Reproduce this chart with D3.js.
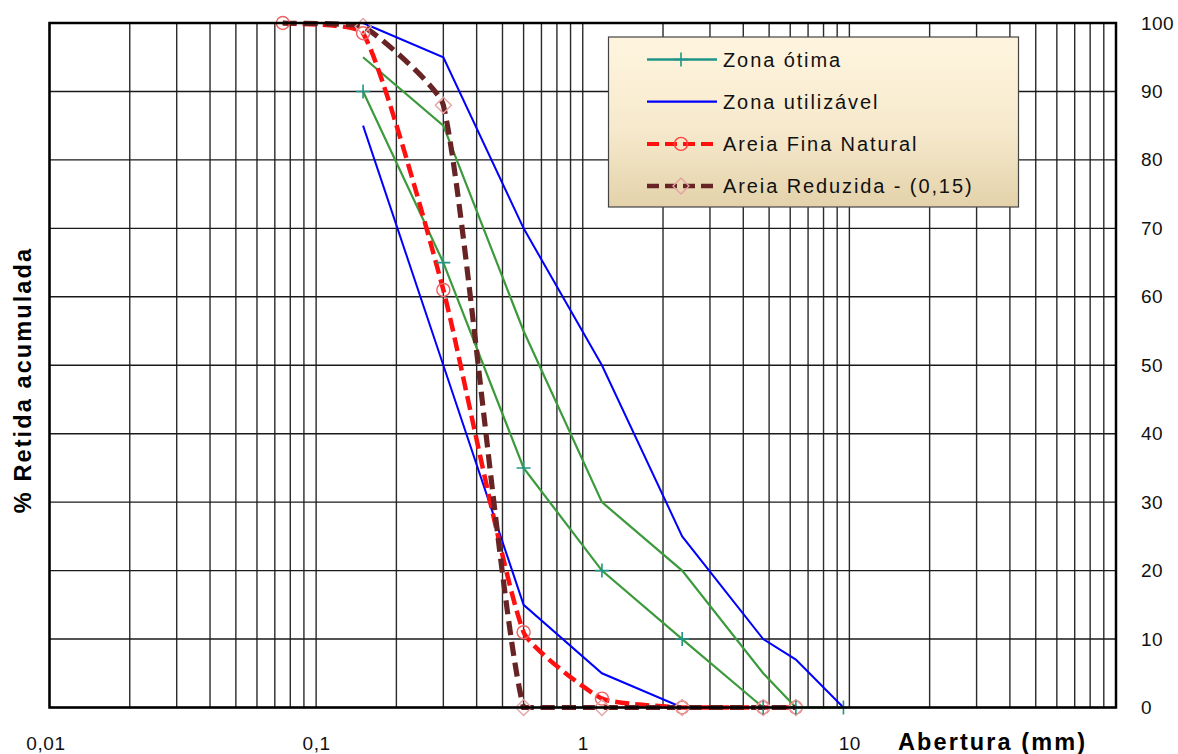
<!DOCTYPE html>
<html><head><meta charset="utf-8">
<script src="https://cdn.jsdelivr.net/npm/d3@7"></script>
<style>
html,body{margin:0;padding:0;background:#fff;}
text{font-family:"Liberation Sans",Arial,sans-serif;}
</style></head>
<body><svg id="c" width="1178" height="754"></svg>
<script>
// ---------- data ----------
const xTickValues = [0.01, 0.1, 1, 10];
const xTickLabels = ["0,01", "0,1", "1", "10"];
const yTickValues = [0, 10, 20, 30, 40, 50, 60, 70, 80, 90, 100];
const xTitle = "Abertura (mm)";
const yTitle = "% Retida acumulada";

const otimaInfX = [0.15, 0.3, 0.6, 1.18, 2.36, 4.75, 6.3, 9.5];
const otimaInfY = [90, 65, 35, 20, 10, 0, 0, 0];
const otimaSupX = [0.15, 0.3, 0.6, 1.18, 2.36, 4.75, 6.3];
const otimaSupY = [95, 85, 55, 30, 20, 5, 0];
const utilInfX = [0.15, 0.3, 0.6, 1.18, 2.36, 4.75];
const utilInfY = [85, 50, 15, 5, 0, 0];
const utilSupX = [0.15, 0.3, 0.6, 1.18, 2.36, 4.75, 6.3, 9.5];
const utilSupY = [100, 95, 70, 50, 25, 10, 7, 0];
const naturalX = [0.075, 0.15, 0.3, 0.6, 1.18, 2.36, 4.75, 6.3];
const naturalY = [100, 98.5, 61, 11, 1.3, 0, 0, 0];
const reduzidaX = [0.075, 0.15, 0.3, 0.6, 1.18, 2.36, 4.75, 6.3];
const reduzidaY = [100, 99.5, 88, 0, 0, 0, 0, 0];

const legendNames = ["Zona ótima", "Zona utilizável", "Areia Fina Natural", "Areia Reduzida - (0,15)"];

// ---------- layout ----------
const svg = d3.select("#c");
const L = 49.5, R = 1116, T = 23, B = 707.5;
const x = d3.scaleLog().domain([0.01, 100]).range([L, R]);
const y = d3.scaleLinear().domain([0, 100]).range([B, T]);
const zip = (xs, ys) => xs.map((v, i) => [v, ys[i]]);

// light smoothing curve (length-weighted, low tension, clamped to segment box)
function LightSmooth(ctx) { this._context = ctx; }
LightSmooth.prototype = {
  areaStart() {}, areaEnd() {},
  lineStart() { this._p = []; },
  point(a, b) { this._p.push([+a, +b]); },
  lineEnd() {
    const p = this._p, c = this._context, n = p.length, k = 0.16;
    if (!n) return;
    const d = (a, b) => Math.hypot(b[0] - a[0], b[1] - a[1]);
    const cl = (v, a, b) => Math.max(Math.min(a, b), Math.min(Math.max(a, b), v));
    c.moveTo(p[0][0], p[0][1]);
    for (let i = 0; i < n - 1; i++) {
      const p0 = p[Math.max(i - 1, 0)], p1 = p[i], p2 = p[i + 1], p3 = p[Math.min(i + 2, n - 1)];
      const d01 = d(p0, p1), d12 = d(p1, p2), d23 = d(p2, p3);
      const f1 = k * d12 / ((d01 + d12) || 1), f2 = k * d12 / ((d12 + d23) || 1);
      let c1 = [p1[0] + (p2[0] - p0[0]) * f1, p1[1] + (p2[1] - p0[1]) * f1];
      let c2 = [p2[0] - (p3[0] - p1[0]) * f2, p2[1] - (p3[1] - p1[1]) * f2];
      c1 = [cl(c1[0], p1[0], p2[0]), cl(c1[1], p1[1], p2[1])];
      c2 = [cl(c2[0], p1[0], p2[0]), cl(c2[1], p1[1], p2[1])];
      c.bezierCurveTo(c1[0], c1[1], c2[0], c2[1], p2[0], p2[1]);
    }
  }
};
const lightSmooth = ctx => new LightSmooth(ctx);

// ---------- grid ----------
const grid = svg.append("g");
grid.selectAll("line.v").data(x.ticks()).join("line")
  .attr("x1", d => x(d)).attr("x2", d => x(d)).attr("y1", T).attr("y2", B)
  .attr("stroke", "#2a2a2a").attr("stroke-width", 1.4);
grid.selectAll("line.h").data(yTickValues).join("line")
  .attr("x1", L).attr("x2", R).attr("y1", d => y(d)).attr("y2", d => y(d))
  .attr("stroke", "#1a1a1a").attr("stroke-width", 1.4);

// ---------- axes ----------
const fontAxis = 19;
const xAxis = svg.append("g").attr("transform", `translate(0,${B})`)
  .call(d3.axisBottom(x).tickValues(xTickValues).tickFormat((d, i) => xTickLabels[i]).tickSize(0).tickPadding(29));
xAxis.select(".domain").remove();
xAxis.selectAll("text").attr("font-size", fontAxis).attr("letter-spacing", 0.6).attr("fill", "#111")
  .style("font-family", '"Liberation Sans",Arial,sans-serif');
xAxis.selectAll(".tick").filter((d, i) => i === 0).select("text").attr("dx", -4);

const yAxis = svg.append("g").attr("transform", `translate(${R},0)`)
  .call(d3.axisRight(y).tickValues(yTickValues).tickSize(0).tickPadding(25));
yAxis.select(".domain").remove();
yAxis.selectAll("text").attr("font-size", fontAxis).attr("letter-spacing", 0.4).attr("fill", "#111")
  .style("font-family", '"Liberation Sans",Arial,sans-serif');

svg.append("text").attr("x", 898).attr("y", 750).attr("font-size", 23.5).attr("font-weight", "bold")
  .attr("letter-spacing", 2.1).attr("fill", "#000").text(xTitle);
svg.append("text").attr("transform", "translate(31,380) rotate(-90)").attr("text-anchor", "middle")
  .attr("font-size", 23.5).attr("font-weight", "bold").attr("letter-spacing", 2.1).attr("fill", "#000").text(yTitle);

// ---------- series ----------
const plot = svg.append("g");
const lineLin = d3.line().x(d => x(d[0])).y(d => y(d[1]));
const lineSm = d3.line().x(d => x(d[0])).y(d => y(d[1])).curve(lightSmooth);

const green = "#3c9a3c", teal = "#1f9488", blue = "#0000ff", red = "#ff1010", brown = "#682424";
const circleCol = "#f06060", diamondCol = "#e3a3a3";

function cross(g, pts, col) {
  g.selectAll(null).data(pts).join("path")
    .attr("d", d => { const cx = x(d[0]), cy = y(d[1]); return `M${cx - 7},${cy}H${cx + 7}M${cx},${cy - 7}V${cy + 7}`; })
    .attr("stroke", col).attr("stroke-width", 1.6).attr("fill", "none");
}
function circles(g, pts) {
  g.selectAll(null).data(pts).join("circle")
    .attr("cx", d => x(d[0])).attr("cy", d => y(d[1])).attr("r", 6.5)
    .attr("fill", "none").attr("stroke", circleCol).attr("stroke-width", 1.4);
}
function diamonds(g, pts) {
  g.selectAll(null).data(pts).join("path")
    .attr("d", d => { const cx = x(d[0]), cy = y(d[1]); return `M${cx},${cy - 8}L${cx + 8},${cy}L${cx},${cy + 8}L${cx - 8},${cy}Z`; })
    .attr("fill", "none").attr("stroke", diamondCol).attr("stroke-width", 1.4);
}

const otInf = zip(otimaInfX, otimaInfY), otSup = zip(otimaSupX, otimaSupY);
const utInf = zip(utilInfX, utilInfY), utSup = zip(utilSupX, utilSupY);
const nat = zip(naturalX, naturalY), red15 = zip(reduzidaX, reduzidaY);

plot.append("path").attr("d", lineLin(otSup)).attr("fill", "none").attr("stroke", green).attr("stroke-width", 2.2);
plot.append("path").attr("d", lineLin(otInf)).attr("fill", "none").attr("stroke", green).attr("stroke-width", 2.2);
plot.append("path").attr("d", lineLin(utSup)).attr("fill", "none").attr("stroke", blue).attr("stroke-width", 2);
plot.append("path").attr("d", lineLin(utInf)).attr("fill", "none").attr("stroke", blue).attr("stroke-width", 2);
plot.append("path").attr("d", lineSm(nat)).attr("fill", "none").attr("stroke", red).attr("stroke-width", 4.5)
  .attr("stroke-dasharray", "14,6");
plot.append("path").attr("d", lineSm(red15)).attr("fill", "none").attr("stroke", brown).attr("stroke-width", 5.2)
  .attr("stroke-dasharray", "14,7");
circles(plot, nat);
diamonds(plot, red15.slice(1));
cross(plot, otInf, teal);

// border
svg.append("rect").attr("x", L).attr("y", T).attr("width", R - L).attr("height", B - T)
  .attr("fill", "none").attr("stroke", "#000").attr("stroke-width", 2.5);

// ---------- legend ----------
const defs = svg.append("defs");
const grad = defs.append("linearGradient").attr("id", "lg").attr("x1", 0).attr("y1", 0).attr("x2", 0).attr("y2", 1);
grad.append("stop").attr("offset", "0%").attr("stop-color", "#fff5df");
grad.append("stop").attr("offset", "55%").attr("stop-color", "#f6e9cc");
grad.append("stop").attr("offset", "100%").attr("stop-color", "#e3d2aa");
const lg = svg.append("g");
lg.append("rect").attr("x", 608.5).attr("y", 37).attr("width", 410).attr("height", 170)
  .attr("fill", "url(#lg)").attr("stroke", "#444").attr("stroke-width", 1.2);
const legendStyle = [
  { col: teal, w: 2.5, dash: null, mk: "cross" },
  { col: blue, w: 2.2, dash: null, mk: null },
  { col: red, w: 4, dash: "12,6", mk: "circle" },
  { col: brown, w: 4.5, dash: "12,6", mk: "diamond" }
];
legendNames.forEach((name, i) => {
  const cy = 59.5 + i * 42.2, st = legendStyle[i];
  lg.append("line").attr("x1", 647).attr("x2", 717).attr("y1", cy).attr("y2", cy)
    .attr("stroke", st.col).attr("stroke-width", st.w).attr("stroke-dasharray", st.dash);
  if (st.mk === "cross") lg.append("path").attr("d", `M674,${cy}H688M681,${cy - 7}V${cy + 7}`).attr("stroke", teal).attr("stroke-width", 1.6);
  if (st.mk === "circle") lg.append("circle").attr("cx", 681).attr("cy", cy).attr("r", 6.5).attr("fill", "none").attr("stroke", "#ff4040").attr("stroke-width", 1.4);
  if (st.mk === "diamond") lg.append("path").attr("d", `M681,${cy - 8}L689,${cy}L681,${cy + 8}L673,${cy}Z`).attr("fill", "none").attr("stroke", diamondCol).attr("stroke-width", 1.4);
  lg.append("text").attr("x", 723).attr("y", cy + 7).attr("font-size", 20).attr("letter-spacing", 1.9)
    .attr("fill", "#111").text(name);
});
</script></body></html>
